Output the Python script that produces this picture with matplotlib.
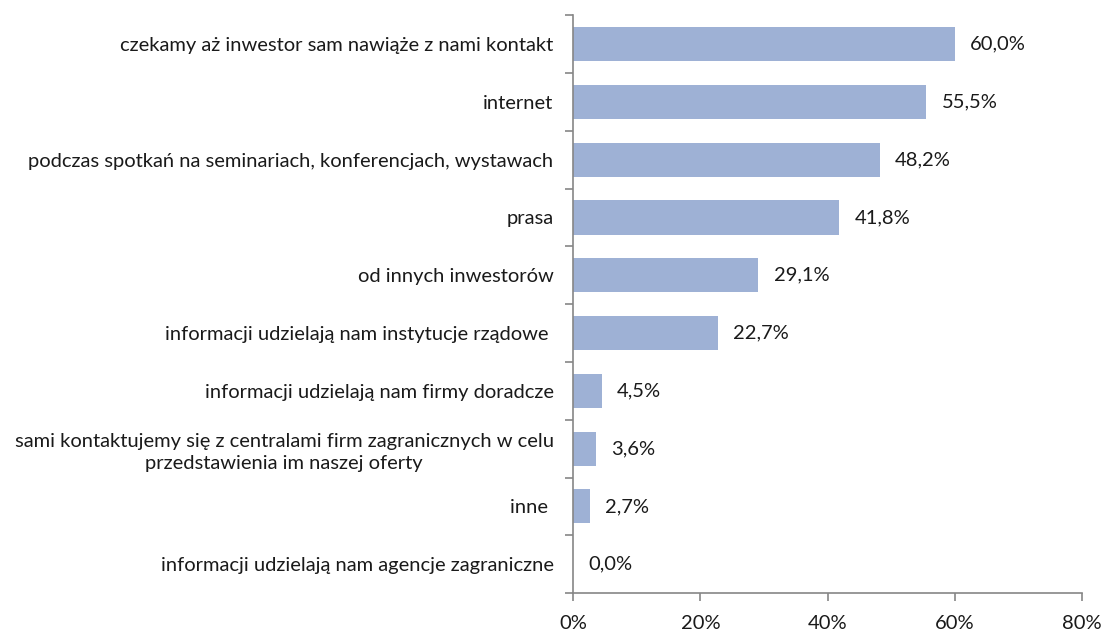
import numpy as np
import matplotlib.pyplot as plt
from matplotlib.ticker import FixedLocator, NullFormatter

categories = [
    "czekamy aż inwestor sam nawiąże z nami kontakt",
    "internet",
    "podczas spotkań na seminariach, konferencjach, wystawach",
    "prasa",
    "od innych inwestorów",
    "informacji udzielają nam instytucje rządowe ",
    "informacji udzielają nam firmy doradcze",
    "sami kontaktujemy się z centralami firm zagranicznych w celu\nprzedstawienia im naszej oferty",
    "inne ",
    "informacji udzielają nam agencje zagraniczne",
]
values = [60.0, 55.5, 48.2, 41.8, 29.1, 22.7, 4.5, 3.6, 2.7, 0.0]
x_ticks = [0, 20, 40, 60, 80]

plt.rcParams['font.family'] = ['Lato', 'DejaVu Sans']
FS = 14.5

fig = plt.figure(figsize=(11.02, 6.33), dpi=100)
ax = fig.add_axes([0.52, 0.063, 0.462, 0.913])

n = len(categories)
y = np.arange(n)
ax.barh(y, values, height=0.59, color='#9EB1D5', edgecolor='none')
ax.set_ylim(n - 0.5, -0.5)
ax.set_xlim(0, 80)

# category labels between boundary ticks
ax.set_yticks(y)
ax.set_yticklabels(categories, fontsize=FS, color='#1a1a1a', multialignment='center',
                   linespacing=1.35)
ax.tick_params(axis='y', which='major', length=0, pad=14)
ax.yaxis.set_minor_locator(FixedLocator(np.arange(-0.5, n, 1.0)))
ax.yaxis.set_minor_formatter(NullFormatter())
ax.tick_params(axis='y', which='minor', length=6, width=1.2, color='#868686', direction='out')

ax.set_xticks(x_ticks)
ax.set_xticklabels([f"{t}%" for t in x_ticks], fontsize=FS, color='#1a1a1a')
ax.tick_params(axis='x', length=6, width=1.2, color='#868686', direction='out', pad=10)

for side in ['top', 'right']:
    ax.spines[side].set_visible(False)
for side in ['left', 'bottom']:
    ax.spines[side].set_color('#868686')
    ax.spines[side].set_linewidth(1.2)

for yi, v in zip(y, values):
    ax.text(v + 2.4, yi, f"{v:.1f}%".replace('.', ','), va='center', ha='left',
            fontsize=FS, color='#1a1a1a')

fig.savefig('out.png', dpi=100)
